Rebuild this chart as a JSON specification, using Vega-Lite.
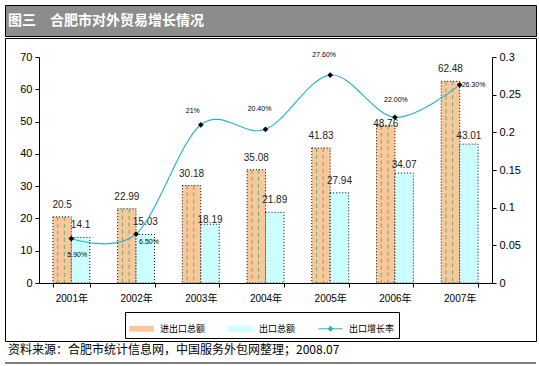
{
  "$schema": "https://vega.github.io/schema/vega-lite/v6.json",
  "padding": {"left": 4, "top": 4, "right": 0, "bottom": 0},
  "background": "white",
  "spacing": 0,
  "datasets": {
    "bars": [
      {"year": "2001年", "series": "进出口总额", "value": 20.5},
      {"year": "2002年", "series": "进出口总额", "value": 22.99},
      {"year": "2003年", "series": "进出口总额", "value": 30.18},
      {"year": "2004年", "series": "进出口总额", "value": 35.08},
      {"year": "2005年", "series": "进出口总额", "value": 41.83},
      {"year": "2006年", "series": "进出口总额", "value": 48.76},
      {"year": "2007年", "series": "进出口总额", "value": 62.48},
      {"year": "2001年", "series": "出口总额", "value": 14.1},
      {"year": "2002年", "series": "出口总额", "value": 15.03},
      {"year": "2003年", "series": "出口总额", "value": 18.19},
      {"year": "2004年", "series": "出口总额", "value": 21.89},
      {"year": "2005年", "series": "出口总额", "value": 27.94},
      {"year": "2006年", "series": "出口总额", "value": 34.07},
      {"year": "2007年", "series": "出口总额", "value": 43.01}
    ],
    "rate": [
      {"year": "2001年", "rate": 0.059, "label": "5.90%"},
      {"year": "2002年", "rate": 0.065, "label": "6.50%"},
      {"year": "2003年", "rate": 0.21, "label": "21%"},
      {"year": "2004年", "rate": 0.204, "label": "20.40%"},
      {"year": "2005年", "rate": 0.276, "label": "27.60%"},
      {"year": "2006年", "rate": 0.22, "label": "22.00%"},
      {"year": "2007年", "rate": 0.263, "label": "26.30%"}
    ]
  },
  "vconcat": [
    {
      "width": 531,
      "height": 31,
      "data": {"values": [{"t": "图三　合肥市对外贸易增长情况"}]},
      "mark": {"type": "text", "align": "left", "baseline": "middle", "dx": 3, "font": "Noto Sans CJK SC", "fontSize": 14, "fontWeight": "bold", "color": "#ffffff"},
      "encoding": {
        "text": {"field": "t"},
        "x": {"datum": 0, "type": "quantitative", "scale": {"domain": [0, 1]}, "axis": null},
        "y": {"datum": 0.47, "type": "quantitative", "scale": {"domain": [0, 1]}, "axis": null}
      },
      "view": {"fill": "#8C8C8C", "stroke": "#000", "strokeWidth": 1}
    },
    {
      "width": 531,
      "height": 303,
      "view": {"fill": "#ffffff", "stroke": "#000", "strokeWidth": 1},
      "resolve": {"scale": {"y": "independent"}},
      "layer": [
        {
          "data": {"name": "bars"},
          "layer": [
            {
              "mark": {"type": "bar", "stroke": "#000", "strokeDash": [1, 2], "strokeWidth": 1},
              "encoding": {
                "x": {
                  "field": "year", "type": "nominal", "title": null,
                  "scale": {"range": [34, 487], "paddingInner": 0.43, "paddingOuter": 0.215},
                  "axis": {
                    "orient": "bottom", "offset": -58, "tickBand": "extent", "tickSize": 4,
                    "labelPadding": 6, "labelAngle": 0, "labelFontSize": 10,
                    "labelFont": "Liberation Sans, Noto Sans CJK SC", "labelColor": "#000",
                    "domainColor": "#000", "tickColor": "#000", "grid": false
                  }
                },
                "xOffset": {"field": "series", "type": "nominal", "scale": {"domain": ["进出口总额", "出口总额"]}},
                "y": {
                  "field": "value", "type": "quantitative", "title": null,
                  "scale": {"domain": [0, 70], "range": [245, 19], "nice": false},
                  "axis": {
                    "orient": "left", "offset": -34, "values": [0, 10, 20, 30, 40, 50, 60, 70],
                    "format": "d", "tickSize": 4, "labelPadding": 3, "labelFontSize": 11,
                    "labelFont": "Liberation Sans", "labelColor": "#000",
                    "domainColor": "#000", "tickColor": "#000", "grid": false
                  }
                },
                "color": {
                  "field": "series", "type": "nominal",
                  "scale": {"domain": ["进出口总额", "出口总额", "出口增长率"], "range": ["#F9C79A", "#CCFFFF", "#2AB5C6"]},
                  "legend": {
                    "orient": "none", "legendX": 120, "legendY": 307, "direction": "horizontal",
                    "title": null, "strokeColor": "#000", "padding": 4, "columnPadding": 20,
                    "labelFont": "Noto Sans CJK SC", "labelFontSize": 9, "labelColor": "#000",
                    "labelOffset": 6, "symbolSize": 576,
                    "symbolType": "M-1,-0.22H1V0.22H-1Z",
                    "encode": {
                      "symbols": {
                        "update": {
                          "shape": {"signal": "datum.value === '出口增长率' ? 'M-1,0H1M-0.18,0L0,-0.22L0.18,0L0,0.22Z' : 'M-1,-0.22H1V0.22H-1Z'"},
                          "fill": {"signal": "datum.value === '出口增长率' ? '#000' : scale('color', datum.value)"},
                          "stroke": {"signal": "datum.value === '出口增长率' ? '#2AB5C6' : '#888'"},
                          "strokeDash": {"signal": "datum.value === '出口增长率' ? [] : [1, 1]"},
                          "strokeWidth": {"value": 1},
                          "opacity": {"value": 1}
                        }
                      }
                    }
                  }
                }
              }
            },
            {
              "transform": [{"filter": "datum.series === '进出口总额'"}],
              "mark": {"type": "rule", "color": "#5FAF7A", "strokeDash": [4, 3], "strokeWidth": 1},
              "encoding": {
                "x": {"field": "year", "type": "nominal", "title": null, "bandPosition": 0.13},
                "y": {"field": "value", "type": "quantitative", "title": null},
                "y2": {"datum": 0}
              }
            },
            {
              "transform": [{"filter": "datum.series === '进出口总额'"}],
              "mark": {"type": "rule", "color": "#5FAF7A", "strokeDash": [4, 3], "strokeWidth": 1},
              "encoding": {
                "x": {"field": "year", "type": "nominal", "title": null, "bandPosition": 0.31},
                "y": {"field": "value", "type": "quantitative", "title": null},
                "y2": {"datum": 0}
              }
            },
            {
              "transform": [{"filter": "!(datum.series === '出口总额' && (datum.year === '2003年' || datum.year === '2006年' || datum.year === '2007年')) && !(datum.series === '进出口总额' && datum.year === '2006年')"}],
              "mark": {"type": "text", "baseline": "middle", "dy": -12, "font": "Liberation Sans", "fontSize": 10, "color": "#222"},
              "encoding": {
                "x": {"field": "year", "type": "nominal", "title": null},
                "xOffset": {"field": "series", "type": "nominal"},
                "y": {"field": "value", "type": "quantitative", "title": null},
                "text": {"field": "value", "type": "quantitative"}
              }
            },
            {
              "transform": [{"filter": "datum.series === '出口总额' && datum.year === '2003年'"}],
              "mark": {"type": "text", "baseline": "middle", "dy": -4, "font": "Liberation Sans", "fontSize": 10, "color": "#222"},
              "encoding": {
                "x": {"field": "year", "type": "nominal", "title": null},
                "xOffset": {"field": "series", "type": "nominal"},
                "y": {"field": "value", "type": "quantitative", "title": null},
                "text": {"field": "value", "type": "quantitative"}
              }
            },
            {
              "transform": [{"filter": "datum.series === '出口总额' && (datum.year === '2006年' || datum.year === '2007年')"}],
              "mark": {"type": "text", "baseline": "middle", "dy": -8, "font": "Liberation Sans", "fontSize": 10, "color": "#222"},
              "encoding": {
                "x": {"field": "year", "type": "nominal", "title": null},
                "xOffset": {"field": "series", "type": "nominal"},
                "y": {"field": "value", "type": "quantitative", "title": null},
                "text": {"field": "value", "type": "quantitative"}
              }
            },
            {
              "transform": [{"filter": "datum.series === '进出口总额' && datum.year === '2006年'"}],
              "mark": {"type": "text", "baseline": "middle", "dy": -2, "font": "Liberation Sans", "fontSize": 10, "color": "#222"},
              "encoding": {
                "x": {"field": "year", "type": "nominal", "title": null},
                "xOffset": {"field": "series", "type": "nominal"},
                "y": {"field": "value", "type": "quantitative", "title": null},
                "text": {"field": "value", "type": "quantitative"}
              }
            }
          ]
        },
        {
          "data": {"name": "rate"},
          "layer": [
            {
              "mark": {"type": "line", "interpolate": "cardinal", "strokeWidth": 1.2},
              "encoding": {
                "x": {"field": "year", "type": "nominal", "title": null},
                "y": {
                  "field": "rate", "type": "quantitative", "title": null,
                  "scale": {"domain": [0, 0.3], "range": [245, 19], "nice": false},
                  "axis": {
                    "orient": "right", "offset": -44, "values": [0, 0.05, 0.1, 0.15, 0.2, 0.25, 0.3],
                    "format": "~g", "tickSize": 4, "labelPadding": 3, "labelFontSize": 11,
                    "labelFont": "Liberation Sans", "labelColor": "#000",
                    "domainColor": "#000", "tickColor": "#000", "grid": false
                  }
                },
                "color": {
                  "datum": "出口增长率", "type": "nominal",
                  "legend": {
                    "orient": "none", "legendX": 120, "legendY": 307, "direction": "horizontal",
                    "title": null, "strokeColor": "#000", "padding": 4, "columnPadding": 20,
                    "labelFont": "Noto Sans CJK SC", "labelFontSize": 9, "labelColor": "#000",
                    "labelOffset": 6, "symbolSize": 576,
                    "symbolType": "M-1,-0.22H1V0.22H-1Z",
                    "encode": {
                      "symbols": {
                        "update": {
                          "shape": {"signal": "datum.value === '出口增长率' ? 'M-1,0H1M-0.18,0L0,-0.22L0.18,0L0,0.22Z' : 'M-1,-0.22H1V0.22H-1Z'"},
                          "fill": {"signal": "datum.value === '出口增长率' ? '#000' : scale('color', datum.value)"},
                          "stroke": {"signal": "datum.value === '出口增长率' ? '#2AB5C6' : '#888'"},
                          "strokeDash": {"signal": "datum.value === '出口增长率' ? [] : [1, 1]"},
                          "strokeWidth": {"value": 1},
                          "opacity": {"value": 1}
                        }
                      }
                    }
                  }
                }
              }
            },
            {
              "mark": {"type": "point", "shape": "diamond", "filled": true, "color": "#000", "size": 32, "opacity": 1},
              "encoding": {
                "x": {"field": "year", "type": "nominal", "title": null},
                "y": {"field": "rate", "type": "quantitative", "title": null}
              }
            },
            {
              "transform": [{"filter": "datum.year === '2001年'"}],
              "mark": {"type": "text", "align": "left", "baseline": "middle", "dx": -4, "dy": 16, "font": "Liberation Sans", "fontSize": 7, "color": "#000"},
              "encoding": {
                "x": {"field": "year", "type": "nominal", "title": null},
                "y": {"field": "rate", "type": "quantitative", "title": null},
                "text": {"field": "label"}
              }
            },
            {
              "transform": [{"filter": "datum.year === '2002年'"}],
              "mark": {"type": "text", "align": "left", "baseline": "middle", "dx": 3, "dy": 8, "font": "Liberation Sans", "fontSize": 7, "color": "#000"},
              "encoding": {
                "x": {"field": "year", "type": "nominal", "title": null},
                "y": {"field": "rate", "type": "quantitative", "title": null},
                "text": {"field": "label"}
              }
            },
            {
              "transform": [{"filter": "datum.year === '2003年'"}],
              "mark": {"type": "text", "align": "center", "baseline": "middle", "dx": -8, "dy": -14, "font": "Liberation Sans", "fontSize": 7, "color": "#000"},
              "encoding": {
                "x": {"field": "year", "type": "nominal", "title": null},
                "y": {"field": "rate", "type": "quantitative", "title": null},
                "text": {"field": "label"}
              }
            },
            {
              "transform": [{"filter": "datum.year === '2004年' || datum.year === '2005年'"}],
              "mark": {"type": "text", "align": "center", "baseline": "middle", "dx": -6, "dy": -20, "font": "Liberation Sans", "fontSize": 7, "color": "#000"},
              "encoding": {
                "x": {"field": "year", "type": "nominal", "title": null},
                "y": {"field": "rate", "type": "quantitative", "title": null},
                "text": {"field": "label"}
              }
            },
            {
              "transform": [{"filter": "datum.year === '2006年'"}],
              "mark": {"type": "text", "align": "center", "baseline": "middle", "dx": 1, "dy": -17, "font": "Liberation Sans", "fontSize": 7, "color": "#000"},
              "encoding": {
                "x": {"field": "year", "type": "nominal", "title": null},
                "y": {"field": "rate", "type": "quantitative", "title": null},
                "text": {"field": "label"}
              }
            },
            {
              "transform": [{"filter": "datum.year === '2007年'"}],
              "mark": {"type": "text", "align": "left", "baseline": "middle", "dx": 2, "dy": 0, "font": "Liberation Sans", "fontSize": 7, "color": "#000"},
              "encoding": {
                "x": {"field": "year", "type": "nominal", "title": null},
                "y": {"field": "rate", "type": "quantitative", "title": null},
                "text": {"field": "label"}
              }
            }
          ]
        }
      ]
    },
    {
      "width": 531,
      "height": 21,
      "view": {"fill": null, "stroke": null},
      "data": {"values": [{"t": "资料来源：合肥市统计信息网，中国服务外包网整理；2008.07"}]},
      "layer": [
        {
          "mark": {"type": "text", "align": "left", "baseline": "middle", "dx": 3, "font": "Noto Sans CJK SC", "fontSize": 12, "color": "#000"},
          "encoding": {
            "text": {"field": "t"},
            "x": {"datum": 0, "type": "quantitative", "scale": {"domain": [0, 1]}, "axis": null},
            "y": {"datum": 0.64, "type": "quantitative", "scale": {"domain": [0, 1]}, "axis": null}
          }
        },
        {
          "mark": {"type": "rule", "color": "#000", "strokeWidth": 1},
          "encoding": {
            "y": {"datum": 0, "type": "quantitative", "scale": {"domain": [0, 1]}, "axis": null}
          }
        }
      ]
    }
  ]
}
